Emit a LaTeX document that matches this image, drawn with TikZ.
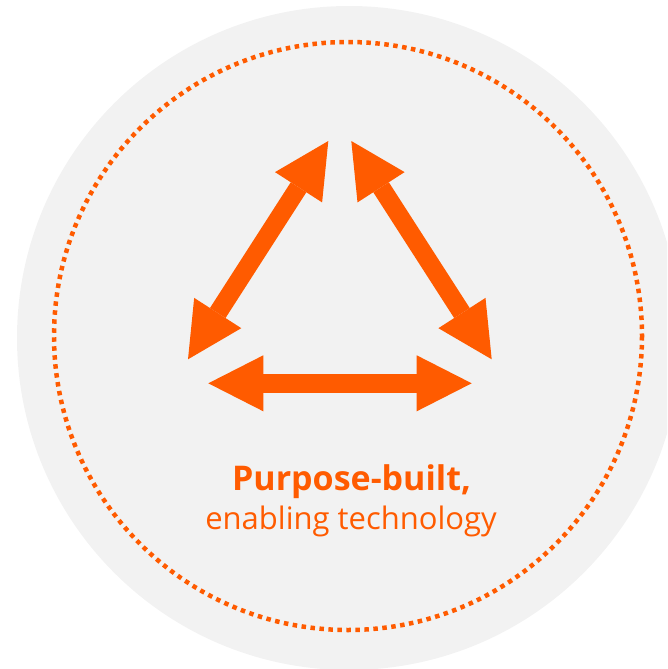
\documentclass[tikz,border=0pt]{standalone}
\usepackage{fontspec}
\setmainfont{Open Sans}
\usetikzlibrary{arrows.meta}
\definecolor{brandorange}{RGB}{255,91,0}
\definecolor{discgray}{RGB}{242,242,242}

\begin{document}
\begin{tikzpicture}[
  x=1pt, y=-1pt,
  link/.style={draw=brandorange, line width=18.5pt, {Triangle[length=55pt, width=56pt, line width=0pt]}-{Triangle[length=55pt, width=56pt, line width=0pt]}},
  ring/.style={draw=brandorange, line width=4.5pt, dash pattern=on 4.5pt off 4.5pt},
  caption/.style={text=brandorange, anchor=base, inner sep=0pt}
]
\useasboundingbox (0,0) rectangle (667,669);
\clip (0,0) rectangle (667,669);

% disc and dotted ring
\fill[discgray] (349,338) circle[radius=332];
\draw[ring] (348,336) circle[radius=294];

% corners of the cycle
\coordinate (top-l) at (328.3,141);
\coordinate (top-r) at (351.3,141);
\coordinate (low-l) at (188,359.3);
\coordinate (low-r) at (491.7,359.3);
\coordinate (base-l) at (208.3,383.3);
\coordinate (base-r) at (471.7,383.3);

\draw[link] (low-l) -- (top-l);
\draw[link] (top-r) -- (low-r);
\draw[link] (base-l) -- (base-r);

\node[caption, font=\fontsize{34}{40}\selectfont\bfseries] (title) at (351.5,490) {Purpose-built,};
\node[caption, font=\fontsize{31}{37}\selectfont] (subtitle) at (351,529) {enabling technology};
\end{tikzpicture}
\end{document}
